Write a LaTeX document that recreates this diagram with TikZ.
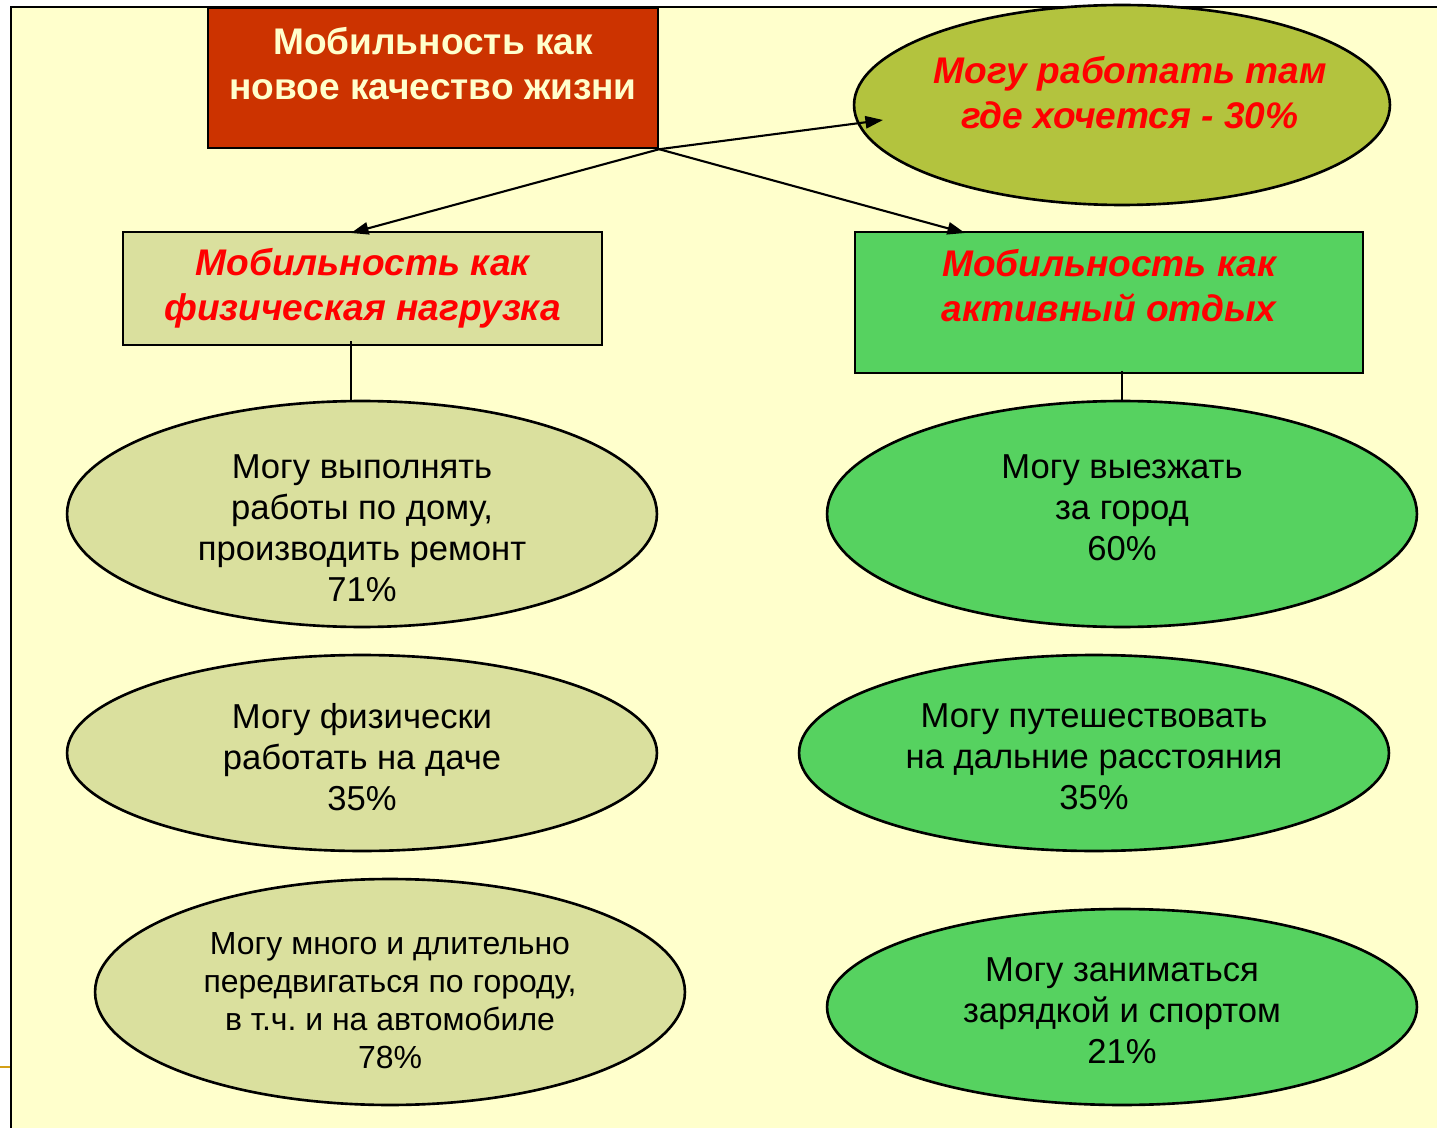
\documentclass[tikz,border=0pt]{standalone}
\usepackage{fontspec}
\setmainfont{Liberation Sans}
\usepackage{tikz}
\usetikzlibrary{arrows.meta,calc,positioning,shapes.geometric}
\definecolor{PageFill}{HTML}{FFFFCC}
\definecolor{TitleFill}{HTML}{CC3300}
\definecolor{OliveFill}{HTML}{B3C33E}
\definecolor{PaleFill}{HTML}{DAE09E}
\definecolor{GreenFill}{HTML}{56D260}
\definecolor{TickOrange}{HTML}{D4A017}
\frenchspacing

\begin{document}
\begin{tikzpicture}[
    x=0.02cm, y=-0.02cm,
    headtext/.style={font=\fontsize{21.1}{25.6}\selectfont\bfseries\itshape, text=red, align=center},
    bodytext/.style={font=\fontsize{19.7}{23.3}\selectfont, align=center},
    palebox/.style={draw, line width=1.4pt, fill=PaleFill, inner sep=0pt},
    greenbox/.style={draw, line width=1.4pt, fill=GreenFill, inner sep=0pt},
    paleoval/.style={ellipse, draw, line width=1.5pt, fill=PaleFill, inner sep=0pt},
    greenoval/.style={ellipse, draw, line width=1.5pt, fill=GreenFill, inner sep=0pt},
    link/.style={line width=1.2pt, -{Triangle[length=10pt, width=7pt]}}
  ]
    \useasboundingbox (0,0) rectangle (1437,1128);
    \fill[white] (0,0) rectangle (1437,1128);
    \fill[PageFill] (11,7) rectangle (1437,1128);
    \draw[line width=1.6pt] (11,1128) -- (11,7) -- (1437,7);
    \draw[TickOrange, line width=1.6pt] (0,1067) -- (10,1067);

    \node[
      draw,
      line width=1.4pt,
      fill=TitleFill,
      minimum width=9cm,
      minimum height=2.8cm,
      text depth=17pt,
      text=PageFill,
      font=\fontsize{21.1}{25.6}\selectfont\bfseries,
      align=center
    ] (title) at (433,78) {Мобильность как\\новое качество жизни};

    \node[
      ellipse,
      draw,
      line width=1.5pt,
      fill=OliveFill,
      minimum width=10.72cm,
      minimum height=4cm,
      inner sep=0pt
    ] (anywhere) at (1122,105) {};
    \node[headtext] (anywheretext) at ($(anywhere)+(8,-12)$) {Могу работать там\\где хочется - 30\%};

    \node[palebox, minimum width=9.58cm, minimum height=2.26cm, headtext] (physical) at (362.5,288.5) {Мобильность как\\физическая нагрузка};
    \node[greenbox, minimum width=10.16cm, minimum height=2.82cm, text depth=20pt, headtext] (leisure) at (1109,302.5) {Мобильность как\\активный отдых};

    \coordinate (physin) at (351,233);
    \coordinate (leisin) at (965,233);
    \coordinate (anyin) at (883,120);
    \draw[link] (title.south east) -- (physin);
    \draw[link] (title.south east) -- (leisin);
    \draw[link] (title.south east) -- (anyin);

    \node[paleoval, minimum width=11.8cm, minimum height=4.52cm] (repair) at (362,514) {};
    \node[paleoval, minimum width=11.8cm, minimum height=3.92cm] (dacha) at (362,753) {};
    \node[paleoval, minimum width=11.8cm, minimum height=4.52cm] (city) at (390,992) {};
    \node[greenoval, minimum width=11.8cm, minimum height=4.52cm] (outoftown) at (1122,514) {};
    \node[greenoval, minimum width=11.8cm, minimum height=3.92cm] (travel) at (1094,753) {};
    \node[greenoval, minimum width=11.8cm, minimum height=3.92cm] (sport) at (1122,1007) {};

    \node[bodytext] (repairtext) at ($(repair)+(0,14)$) {Могу выполнять\\работы по дому,\\производить ремонт\\71\%};
    \node[bodytext] (dachatext) at ($(dacha)+(0,4)$) {Могу физически\\работать на даче\\35\%};
    \node[bodytext, font=\fontsize{18.2}{21.6}\selectfont] (citytext) at ($(city)+(0,9)$) {Могу много и длительно\\передвигаться по городу,\\в т.ч. и на автомобиле\\78\%};
    \node[bodytext] (outoftowntext) at ($(outoftown)+(0,-6)$) {Могу выезжать\\за город\\60\%};
    \node[bodytext] (traveltext) at ($(travel)+(0,4)$) {Могу путешествовать\\на дальние расстояния\\35\%};
    \node[bodytext] (sporttext) at ($(sport)+(0,4)$) {Могу заниматься\\зарядкой и спортом\\21\%};

    \draw[line width=1.2pt] (physical.south -| physin) ++(0,-5) -- (repair.north -| physin);
    \draw[line width=1.2pt] (leisure.south -| outoftown) ++(0,-3) -- (outoftown.north);
  \end{tikzpicture}
\end{document}
